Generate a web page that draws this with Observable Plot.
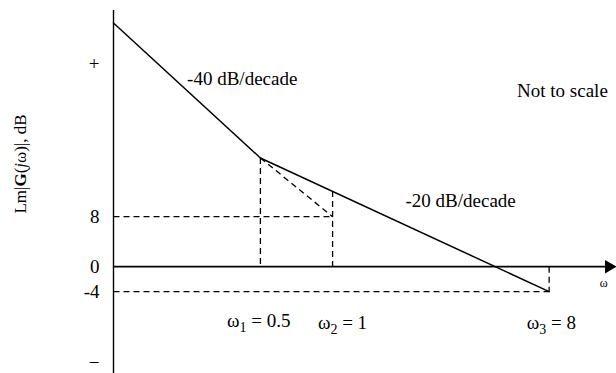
<!DOCTYPE html>
<html>
<head>
<meta charset="utf-8">
<script src="https://cdn.jsdelivr.net/npm/d3@7"></script>
<script src="https://cdn.jsdelivr.net/npm/@observablehq/plot@0.6"></script>
<style>
  html, body { margin: 0; padding: 0; background: #fff; }
  #chart svg { display: block; }
</style>
</head>
<body>
<div id="chart"></div>
<script>
// Asymptotic magnitude line (ω, dB)
const lineW  = [0.122, 0.5, 8];
const lineDb = [39, 17.4, -4];

// Dashed construction segments: [ω1, dB1, ω2, dB2]
const guideW1  = [0.5,  0.5, 1,    1,  0.122, 0.122, 8];
const guideDb1 = [17.4, 17.4, 12.1, 0, 8,     -4,    0];
const guideW2  = [1,    0.5, 1,    1,  1,     8,     8];
const guideDb2 = [8,    0,   0,    0,  8,     -4,    -4];

// Y tick labels
const yTickValues = [32.5, 8, 0, -4, -15.4];
const yTickLabels = ["+", "8", "0", "-4", "−"];

// Annotations
const noteText = ["-40 dB/decade", "-20 dB/decade", "Not to scale", "ω₁ = 0.5", "ω₂ = 1", "ω₃ = 8"];
const noteW    = [0.42, 3.42, 9.09, 0.492, 1.10, 8.17];
const noteDb   = [30.1, 10.6, 28.2, -8.7, -9.0, -9.0];

const axisLabelX = "ω";
const axisLabelXW = 13.5, axisLabelXDb = -2.7;
const yLabel = "Lm|G(jω)|, dB";
const yLabelW = 0.05, yLabelDb = 8.5;

const wMin = 0.122, wMax = 14.7;
const dbMin = -17.1, dbMax = 41;

const mainLine = lineW.map((w, i) => ({w, db: lineDb[i]}));
const guides = guideW1.map((w, i) => ({w1: w, db1: guideDb1[i], w2: guideW2[i], db2: guideDb2[i]}));
const notes = noteText.map((t, i) => ({t, w: noteW[i], db: noteDb[i]}));
const ticks = yTickValues.map((v, i) => ({v, label: yTickLabels[i]}));

const plot = Plot.plot({
  width: 616,
  height: 373,
  marginLeft: 113,
  marginRight: 4,
  marginTop: 10,
  marginBottom: 0,
  x: {type: "log", domain: [wMin, wMax], axis: null},
  y: {domain: [dbMin, dbMax], axis: null},
  style: {fontFamily: "'Liberation Serif', 'DejaVu Serif', serif", fontSize: "18px", background: "#fff", color: "#000"},
  marks: [
    // dashed guides
    Plot.link(guides, {x1: "w1", y1: "db1", x2: "w2", y2: "db2", stroke: "#000", strokeWidth: 1.3, strokeDasharray: "6,4"}),
    // x axis with arrow
    Plot.ruleY([0], {x1: wMin, x2: 14.3, stroke: "#000", strokeWidth: 1.6}),
    Plot.dot([{w: 14.2, db: 0}], {x: "w", y: "db", symbol: "triangle", rotate: 90, r: 5, fill: "#000", stroke: "none"}),
    // y axis
    Plot.ruleX([wMin], {stroke: "#000", strokeWidth: 1.4}),
    // asymptote line
    Plot.line(mainLine, {x: "w", y: "db", stroke: "#000", strokeWidth: 1.5}),
    // y tick labels (through the y scale)
    Plot.text(ticks, {x: () => wMin, y: "v", text: "label", textAnchor: "end", dx: -14, fontSize: 19}),
    // annotations
    Plot.text(notes, {x: "w", y: "db", text: "t", fontSize: 19, className: "notes"}),
    Plot.text([axisLabelX], {x: () => axisLabelXW, y: () => axisLabelXDb, text: d => d, fontSize: 12}),
    // y label
    Plot.text([yLabel], {x: () => yLabelW, y: () => yLabelDb, rotate: -90, textAnchor: "start", text: d => d, fontSize: 17, className: "ylabel"})
  ]
});

document.getElementById("chart").appendChild(plot);

// Rich formatting: subscripts and bold/italic in labels
const ns = "http://www.w3.org/2000/svg";
const subMap = {"₁": "1", "₂": "2", "₃": "3"};
plot.querySelectorAll("g.notes text").forEach(t => {
  const s = t.textContent;
  if (!/[₁₂₃]/.test(s)) return;
  t.textContent = "";
  let shifted = false;
  for (const ch of s) {
    const sp = document.createElementNS(ns, "tspan");
    if (subMap[ch]) {
      sp.textContent = subMap[ch];
      sp.setAttribute("font-size", "14");
      sp.setAttribute("dy", "5");
      shifted = true;
    } else {
      if (shifted) { sp.setAttribute("dy", "-5"); shifted = false; }
      sp.textContent = ch;
    }
    t.appendChild(sp);
  }
});
plot.querySelectorAll("g.ylabel text").forEach(t => {
  const parts = [["Lm|", ""], ["G", "bold"], ["(", ""], ["j", "italic"], ["ω)|, dB", ""]];
  t.textContent = "";
  t.setAttribute("text-anchor", "start");
  for (const [s, st] of parts) {
    const sp = document.createElementNS(ns, "tspan");
    sp.textContent = s;
    if (st === "bold") sp.setAttribute("font-weight", "bold");
    if (st === "italic") sp.setAttribute("font-style", "italic");
    t.appendChild(sp);
  }
});
</script>
</body>
</html>
